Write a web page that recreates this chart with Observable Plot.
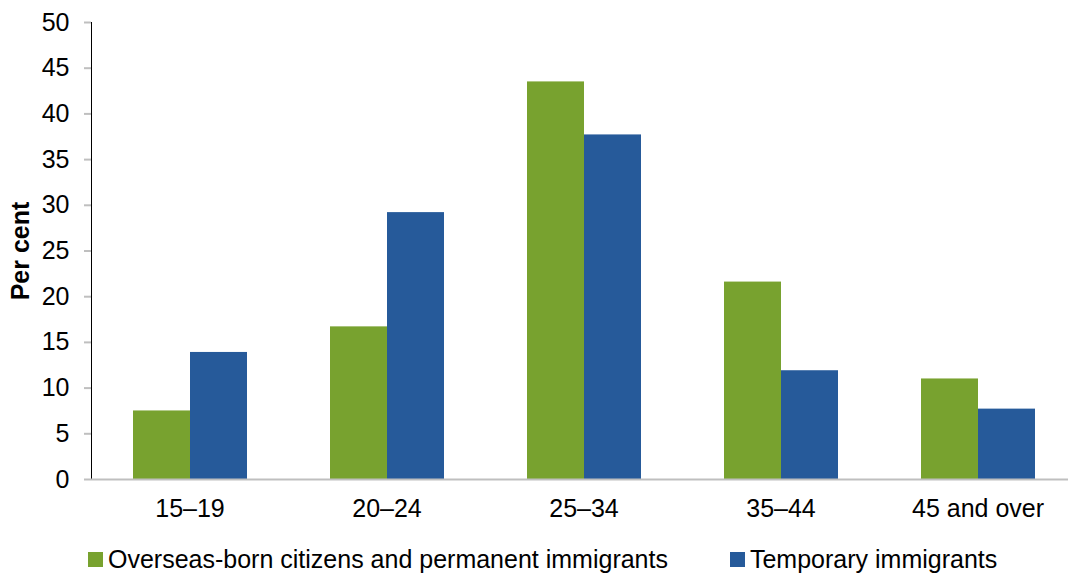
<!DOCTYPE html>
<html>
<head>
<meta charset="utf-8">
<script src="https://cdn.jsdelivr.net/npm/d3@7"></script>
<script src="https://cdn.jsdelivr.net/npm/@observablehq/plot@0.6"></script>
<style>
  html, body { margin: 0; padding: 0; background: #fff; overflow: hidden; }
  body { width: 1068px; height: 573px; font-family: "Liberation Sans", Arial, sans-serif; }
  #chart svg { display: block; }
  .legend { display: flex; align-items: center; height: 37px; margin-top: 5px; padding-left: 88px; font-size: 25px; color: #000; }
  .legend .item { display: flex; align-items: center; }
  .legend .item + .item { margin-left: 62px; }
  .legend .swatch { width: 15px; height: 15px; margin-right: 5px; }
</style>
</head>
<body>
<div id="chart"></div>
<script>
// Age groups along the x axis
const ageGroups = ["15–19", "20–24", "25–34", "35–44", "45 and over"];
// Share of each group (per cent)
const citizensPermanent = [7.5, 16.7, 43.5, 21.6, 11.0];
const temporaryImmigrants = [13.9, 29.2, 37.7, 11.9, 7.7];
const seriesNames = ["Overseas-born citizens and permanent immigrants", "Temporary immigrants"];
const seriesColors = ["#78A22F", "#265A9A"];
const yTicks = [0, 5, 10, 15, 20, 25, 30, 35, 40, 45, 50];

const rows = [];
ageGroups.forEach((age, i) => {
  rows.push({age, series: seriesNames[0], value: citizensPermanent[i]});
  rows.push({age, series: seriesNames[1], value: temporaryImmigrants[i]});
});

const chart = Plot.plot({
  width: 1068,
  height: 536,
  marginTop: 22,
  marginBottom: 57,
  marginLeft: 90,
  marginRight: 0,
  style: {fontFamily: "'Liberation Sans', Arial, sans-serif", fontSize: "25px", color: "#000", background: "#fff"},
  fx: {domain: ageGroups, range: [89, 1077], padding: 0, label: null, tickSize: 0, tickPadding: 20},
  x: {domain: seriesNames, axis: null, paddingInner: 0, paddingOuter: 0.72},
  y: {domain: [0, 50], ticks: yTicks, tickSize: 7, tickPadding: 15, line: true,
      label: "Per cent", labelAnchor: "center", labelOffset: 80},
  color: {domain: seriesNames, range: seriesColors},
  marks: [
    Plot.barY(rows, {fx: "age", x: "series", y: "value", fill: "series"}),
    Plot.ruleY([0], {stroke: "#BFBFBF", strokeWidth: 2})
  ]
});

// Grey axis line and ticks, black labels, bold axis title
chart.querySelectorAll('[aria-label*="y-axis"] path, [aria-label*="y-axis"] line').forEach(el => {
  el.style.stroke = "#BFBFBF";
  el.style.strokeWidth = "2";
});
chart.querySelectorAll("text").forEach(t => {
  if (t.textContent.trim().startsWith("Per cent")) {
    t.textContent = "Per cent";
    t.style.fontWeight = "bold";
  }
});

document.getElementById("chart").appendChild(chart);

const legend = d3.select("body").append("div").attr("class", "legend");
seriesNames.forEach((name, i) => {
  const item = legend.append("div").attr("class", "item");
  item.append("div").attr("class", "swatch").style("background", seriesColors[i]);
  item.append("span").text(name);
});
</script>
</body>
</html>
